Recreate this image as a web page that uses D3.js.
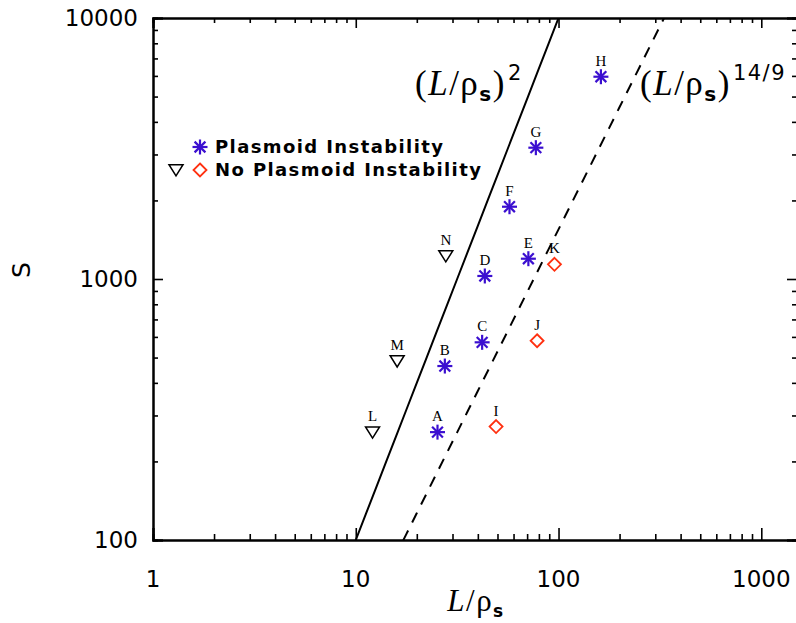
<!DOCTYPE html>
<html>
<head>
<meta charset="utf-8">
<script src="https://cdn.jsdelivr.net/npm/d3@7"></script>
<style>
  body { margin: 0; background: #fff; }
  svg { display: block; }
</style>
</head>
<body>
<div id="chart"></div>
<script>
// Points: L/rho_s and S
var plasmoidNames = ["A", "B", "C", "D", "E", "F", "G", "H"];
var plasmoidL = [25.3, 27.5, 42.0, 43.3, 71.0, 57.3, 77.3, 161.8];
var plasmoidS = [259, 464, 572, 1027, 1196, 1892, 3185, 5957];

var stableNames = ["I", "J", "K"];
var stableL = [49.2, 78.4, 95.5];
var stableS = [272, 580, 1138];

var triNames = ["L", "M", "N"];
var triL = [12.1, 16.0, 27.8];
var triS = [259, 485, 1225];

var xTicks = [1, 10, 100, 1000];
var yTicks = [100, 1000, 10000];

var width = 796, height = 623;
var margin = { top: 18, right: -1, bottom: 83, left: 153 };
var purple = "#3b0fd0", red = "#ff3010";

var svg = d3.select("#chart").append("svg")
    .attr("width", width)
    .attr("height", height);

var x = d3.scaleLog().domain([1, 1500]).range([margin.left, width - margin.right]);
var y = d3.scaleLog().domain([100, 10000]).range([height - margin.bottom, margin.top]);

var plot = svg.append("g");

// clip for the power-law lines
svg.append("clipPath").attr("id", "clip")
    .append("rect")
    .attr("x", x.range()[0]).attr("y", y.range()[1])
    .attr("width", x.range()[1] - x.range()[0])
    .attr("height", y.range()[0] - y.range()[1]);

// minor tick values for log axes
function minorTicks(scale) {
    var d = scale.domain(), out = [];
    for (var p = Math.floor(Math.log10(d[0])); p <= Math.ceil(Math.log10(d[1])); p++) {
        for (var k = 2; k <= 9; k++) {
            var v = k * Math.pow(10, p);
            if (v > d[0] && v < d[1]) out.push(v);
        }
    }
    return out;
}

function drawAxis(axisFn, scale, transform, major, tickLen) {
    var g = svg.append("g").attr("transform", transform);
    g.call(axisFn(scale).tickValues(minorTicks(scale)).tickSize(tickLen / 2).tickFormat(""));
    var g2 = svg.append("g").attr("transform", transform);
    g2.call(axisFn(scale).tickValues(major).tickSize(tickLen).tickFormat(""));
    [g, g2].forEach(function (gg) {
        gg.select(".domain").attr("stroke", "#000").attr("stroke-width", 2);
        gg.selectAll(".tick line").attr("stroke", "#000").attr("stroke-width", 1.6);
    });
    return g2;
}

var yb = y.range()[0], yt = y.range()[1], xl = x.range()[0], xr = x.range()[1];
// ticks point inward on all four sides
drawAxis(d3.axisTop, x, "translate(0," + yb + ")", xTicks, 12);
drawAxis(d3.axisBottom, x, "translate(0," + yt + ")", xTicks, 10);
drawAxis(d3.axisRight, y, "translate(" + xl + ",0)", yTicks, 10);
drawAxis(d3.axisLeft, y, "translate(" + xr + ",0)", yTicks, 10);

// tick labels
var labelFont = "DejaVu Sans";
svg.append("g").selectAll("text").data(xTicks).enter().append("text")
    .attr("x", function (d) { return x(d); })
    .attr("y", yb + 47)
    .attr("text-anchor", "middle")
    .style("font-family", labelFont).style("font-size", "23px")
    .text(function (d) { return d; });

svg.append("g").selectAll("text").data(yTicks).enter().append("text")
    .attr("x", xl - 15)
    .attr("y", function (d) { return y(d) + 8; })
    .attr("text-anchor", "end")
    .style("font-family", labelFont).style("font-size", "23px")
    .text(function (d) { return d; });

// axis titles
var xt = svg.append("text")
    .attr("x", 476).attr("y", 611)
    .attr("text-anchor", "middle")
    .style("font-family", "Liberation Serif").style("font-size", "31px")
    .style("letter-spacing", "1.5px");
xt.append("tspan").style("font-style", "italic").text("L");
xt.append("tspan").text("/\u03c1");
xt.append("tspan").attr("dy", 6).style("font-size", "17px").style("font-family", "DejaVu Sans").style("font-weight", "bold").text("s");

svg.append("text")
    .attr("transform", "translate(30,270) rotate(-90)")
    .attr("text-anchor", "middle")
    .style("font-family", "DejaVu Sans").style("font-size", "25px")
    .text("S");

// power laws: S = L^2 and S ~ 1.2 L^(14/9)
var lineL = d3.range(0, 3.2, 0.05).map(function (e) { return Math.pow(10, e); });
var line = d3.line().x(function (d) { return x(d[0]); }).y(function (d) { return y(d[1]); });

plot.append("path")
    .datum(lineL.map(function (l) { return [l, l * l]; }))
    .attr("clip-path", "url(#clip)")
    .attr("d", line)
    .attr("fill", "none").attr("stroke", "#000").attr("stroke-width", 2);

plot.append("path")
    .datum(lineL.map(function (l) { return [l, 1.2 * Math.pow(l, 14 / 9)]; }))
    .attr("clip-path", "url(#clip)")
    .attr("d", line)
    .attr("fill", "none").attr("stroke", "#000").attr("stroke-width", 2)
    .attr("stroke-dasharray", "11,9");

// marker helpers
function asterisk(g, cx, cy) {
    var r = 7.5, q = r * 0.72;
    [[0, -r, 0, r], [-r, 0, r, 0], [-q, -q, q, q], [-q, q, q, -q]]
        .forEach(function (s) {
            g.append("line")
                .attr("x1", cx + s[0]).attr("y1", cy + s[1])
                .attr("x2", cx + s[2]).attr("y2", cy + s[3])
                .attr("stroke", purple).attr("stroke-width", 2.2);
        });
}
function diamond(g, cx, cy) {
    var r = 6.5;
    g.append("path")
        .attr("d", "M" + cx + "," + (cy - r) + "L" + (cx + r) + "," + cy + "L" + cx + "," + (cy + r) + "L" + (cx - r) + "," + cy + "Z")
        .attr("fill", "none").attr("stroke", red).attr("stroke-width", 1.8);
}
function triangle(g, cx, cy) {
    var r = 7;
    g.append("path")
        .attr("d", "M" + (cx - r) + "," + (cy - r * 0.75) + "L" + (cx + r) + "," + (cy - r * 0.75) + "L" + cx + "," + (cy + r * 0.85) + "Z")
        .attr("fill", "none").attr("stroke", "#000").attr("stroke-width", 1.5);
}
function pointLabel(g, cx, cy, name) {
    g.append("text")
        .attr("x", cx).attr("y", cy - 11)
        .attr("text-anchor", "middle")
        .style("font-family", "Liberation Serif").style("font-size", "15px")
        .text(name);
}

var marks = plot.append("g");
plasmoidNames.forEach(function (n, i) {
    var cx = x(plasmoidL[i]), cy = y(plasmoidS[i]);
    asterisk(marks, cx, cy);
    pointLabel(marks, cx, cy, n);
});
stableNames.forEach(function (n, i) {
    var cx = x(stableL[i]), cy = y(stableS[i]);
    diamond(marks, cx, cy);
    pointLabel(marks, cx, cy, n);
});
triNames.forEach(function (n, i) {
    var cx = x(triL[i]), cy = y(triS[i]);
    triangle(marks, cx, cy);
    pointLabel(marks, cx, cy, n);
});

// legend
var legend = svg.append("g");
asterisk(legend, 200, 147);
triangle(legend, 176, 170);
diamond(legend, 200, 170);
legend.append("text").attr("x", 215).attr("y", 153)
    .style("font-family", "DejaVu Sans").style("font-weight", "bold")
    .style("font-size", "18px").style("letter-spacing", "1.4px")
    .text("Plasmoid Instability");
legend.append("text").attr("x", 215).attr("y", 176)
    .style("font-family", "DejaVu Sans").style("font-weight", "bold")
    .style("font-size", "18px").style("letter-spacing", "1.4px")
    .text("No Plasmoid Instability");

// annotations
function lawLabel(xPos, exponent) {
    var t = svg.append("text").attr("x", xPos).attr("y", 95)
        .style("font-family", "Liberation Serif").style("font-size", "35px")
        .style("letter-spacing", "1.5px");
    t.append("tspan").text("(");
    t.append("tspan").style("font-style", "italic").text("L");
    t.append("tspan").text("/\u03c1");
    t.append("tspan").attr("dy", 6).style("font-size", "20px").style("font-family", "DejaVu Sans").style("font-weight", "bold").text("s");
    t.append("tspan").attr("dy", -6).text(")");
    t.append("tspan").attr("dy", -15).attr("dx", 2).style("font-size", "21px").style("font-family", "DejaVu Sans").text(exponent);
}
lawLabel(415, "2");
lawLabel(640, "14/9");
</script>
</body>
</html>
